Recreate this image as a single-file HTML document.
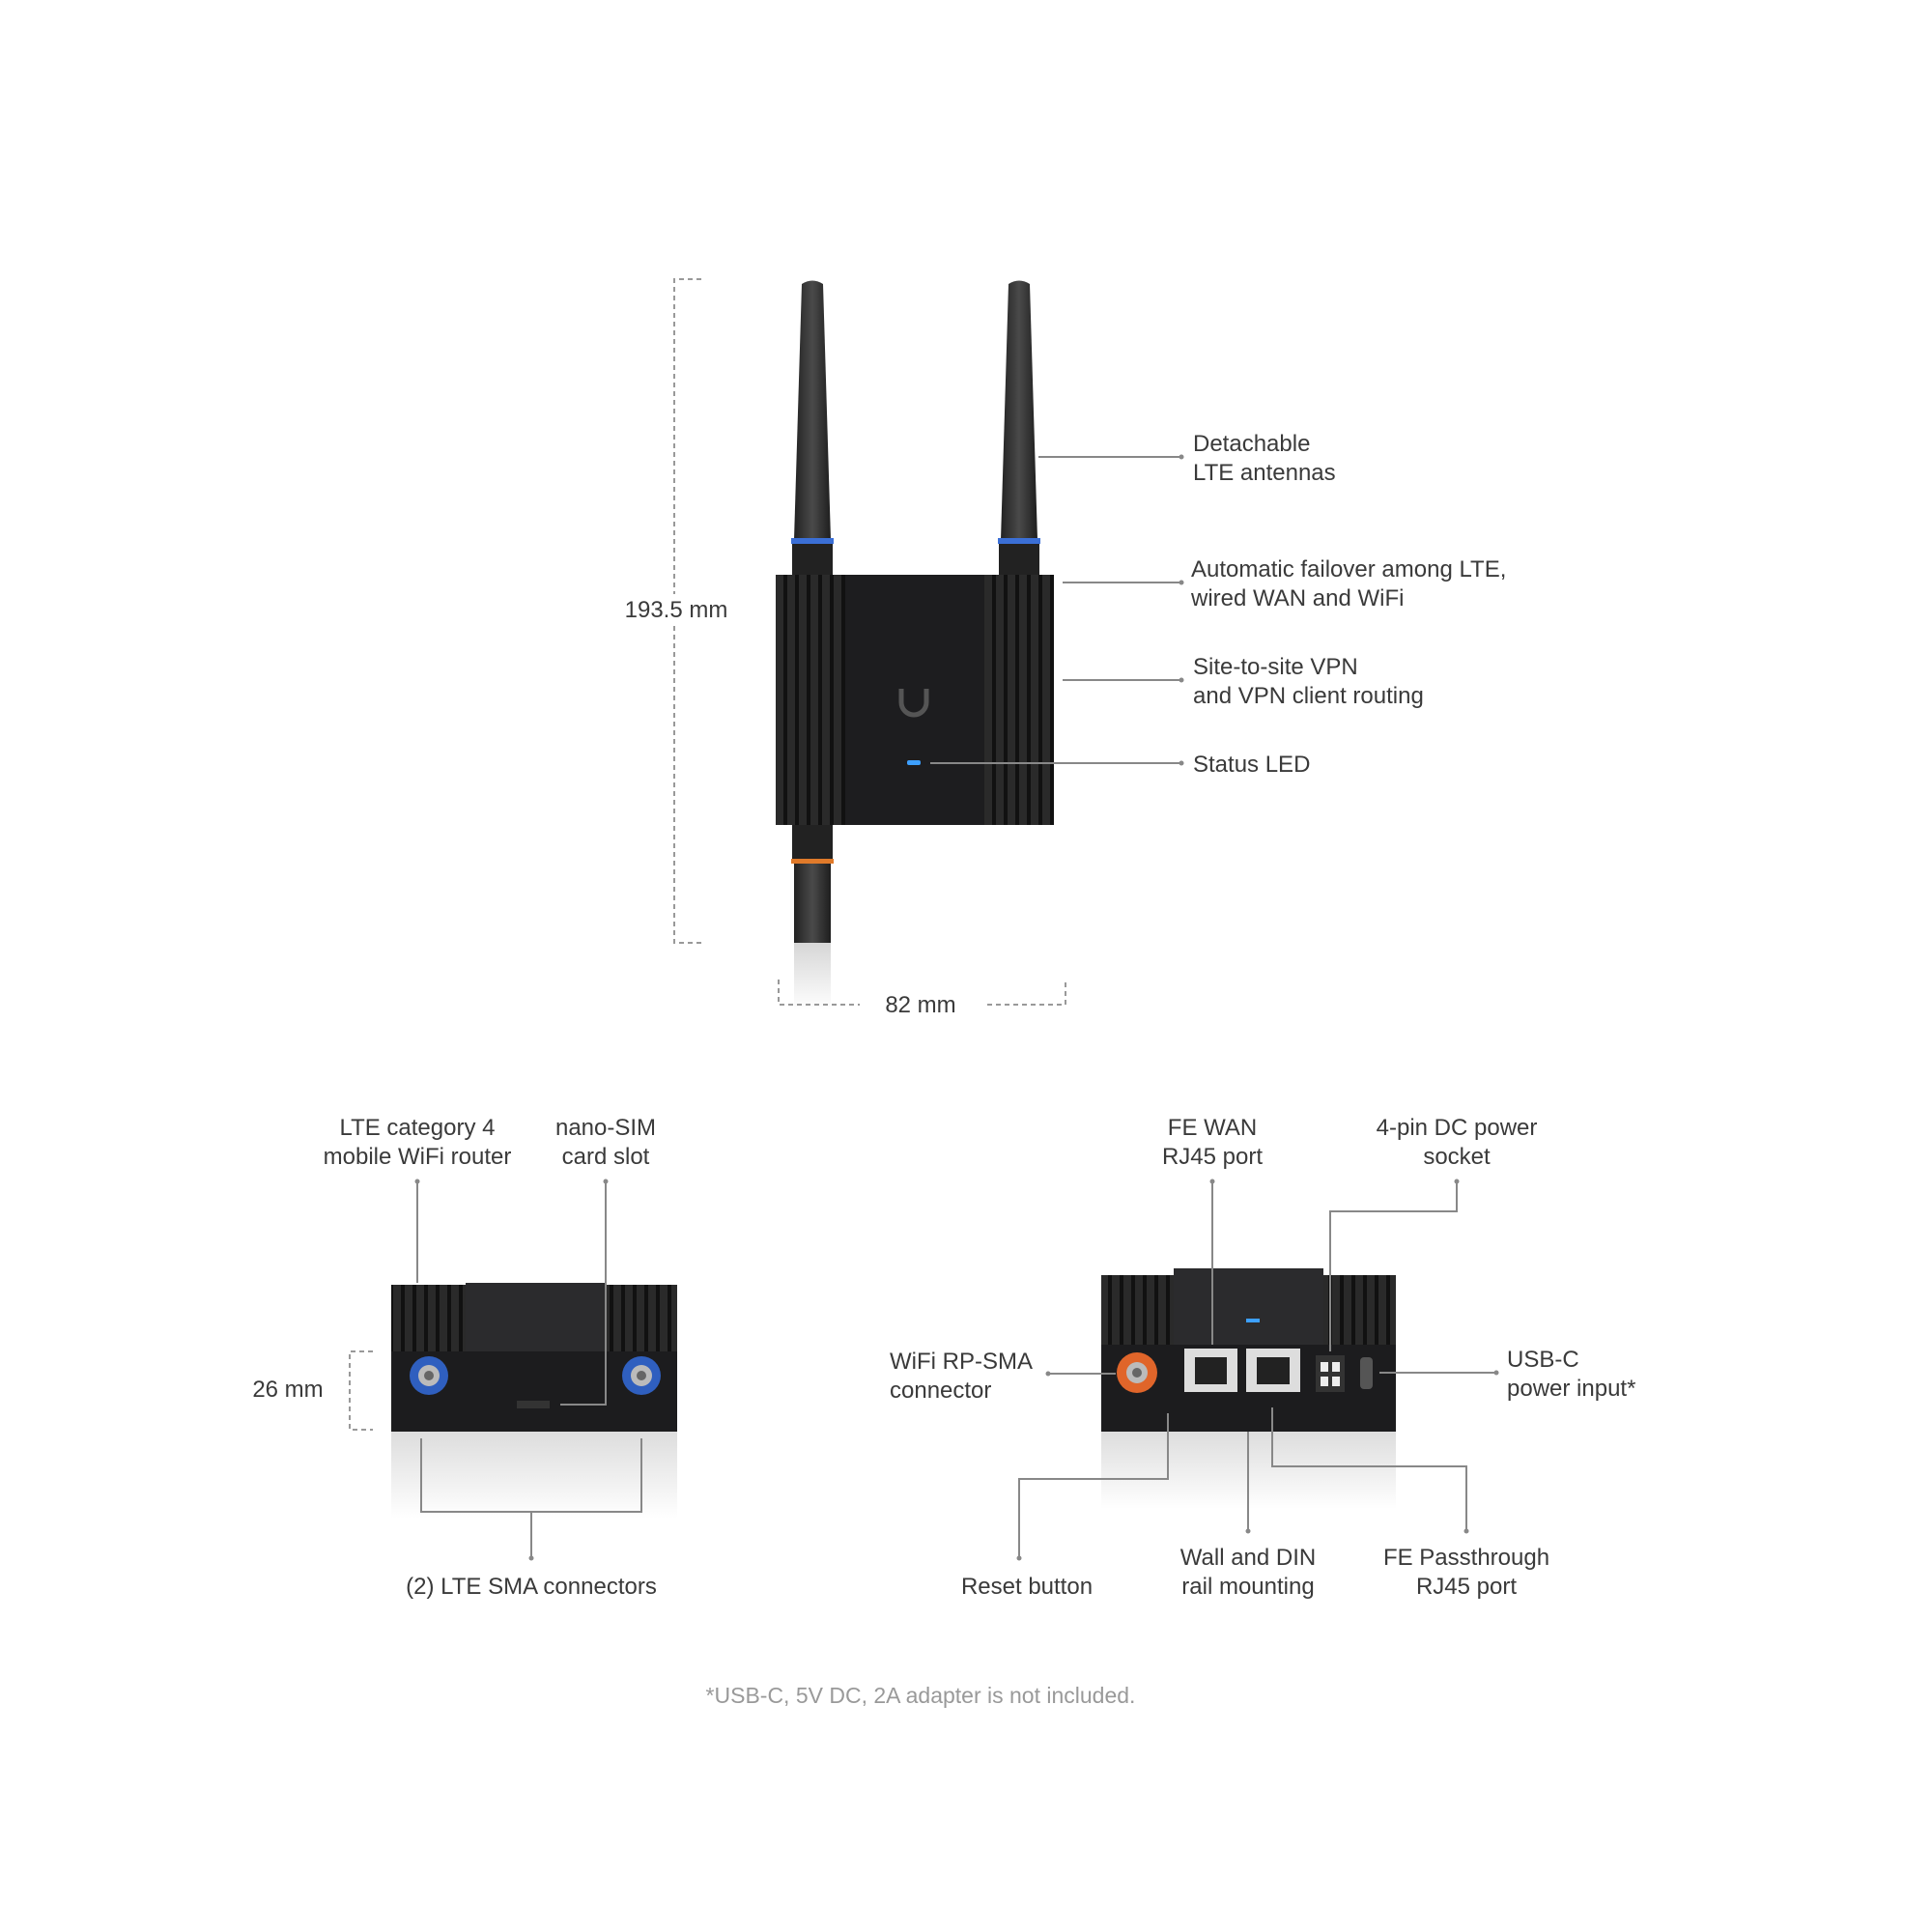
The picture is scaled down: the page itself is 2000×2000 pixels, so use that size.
<!DOCTYPE html>
<html><head><meta charset="utf-8"><style>
html,body{margin:0;padding:0;background:#fff}
svg{display:block}
text{font-family:"Liberation Sans",sans-serif;font-size:24px;fill:#3a3a3a}
.c{text-anchor:middle}
.l{stroke:#888;stroke-width:2;fill:none}
.d{stroke:#999;stroke-width:2;fill:none;stroke-dasharray:5,4}
</style></head><body>
<svg width="2000" height="2000" viewBox="0 0 2000 2000" xmlns="http://www.w3.org/2000/svg">
<defs>
<linearGradient id="ant" x1="0" x2="1"><stop offset="0" stop-color="#222"/><stop offset=".5" stop-color="#4a4a4a"/><stop offset="1" stop-color="#1e1e1e"/></linearGradient>
<linearGradient id="refl" x1="0" y1="0" x2="0" y2="1"><stop offset="0" stop-color="#bbb"/><stop offset="1" stop-color="#fff"/></linearGradient>
<pattern id="fin" width="12" height="10" patternUnits="userSpaceOnUse"><rect width="12" height="10" fill="#2a2a2a"/><rect width="4" height="10" fill="#111"/></pattern>
</defs>
<g transform="translate(-5,-5)">
<!-- TOP DEVICE -->
<path d="M835 299 Q846 292 857 299 L865 564 L827 564 Z" fill="url(#ant)"/>
<rect x="824" y="562" width="44" height="6" fill="#3b6fd6"/>
<rect x="825" y="568" width="42" height="34" fill="#222"/>
<path d="M1049 299 Q1060 292 1071 299 L1079 564 L1041 564 Z" fill="url(#ant)"/>
<rect x="1038" y="562" width="44" height="6" fill="#3b6fd6"/>
<rect x="1039" y="568" width="42" height="34" fill="#222"/>
<rect x="825" y="857" width="42" height="38" fill="#222"/>
<rect x="824" y="894" width="44" height="5" fill="#e07a2a"/>
<rect x="827" y="899" width="38" height="82" fill="url(#ant)"/>
<rect x="827" y="981" width="38" height="70" fill="url(#refl)" opacity=".6"/>
<rect x="808" y="600" width="288" height="259" fill="#1d1d1f"/>
<rect x="808" y="600" width="72" height="259" fill="url(#fin)"/>
<rect x="1024" y="600" width="72" height="259" fill="url(#fin)"/>
<path d="M938 718 v14 a13 13 0 0 0 26 0 v-14" stroke="#555" stroke-width="5" fill="none"/>
<rect x="944" y="792" width="14" height="5" rx="2" fill="#3da0ff"/>

<path class="d" d="M731 294 H703 V981 H731"/>
<rect x="690" y="620" width="30" height="32" fill="#fff"/>
<text x="705" y="644" class="c">193.5 mm</text>
<path class="d" d="M811 1019 V1045 H895 M1027 1045 H1108 V1019"/>
<text x="958" y="1053" class="c">82 mm</text>

<path class="l" d="M1080 478 H1228"/><circle cx="1228" cy="478" r="2.5" fill="#888"/>
<text x="1240" y="472">Detachable</text><text x="1240" y="502">LTE antennas</text>
<path class="l" d="M1105 608 H1228"/><circle cx="1228" cy="608" r="2.5" fill="#888"/>
<text x="1238" y="602">Automatic failover among LTE,</text><text x="1238" y="632">wired WAN and WiFi</text>
<path class="l" d="M1105 709 H1228"/><circle cx="1228" cy="709" r="2.5" fill="#888"/>
<text x="1240" y="703">Site-to-site VPN</text><text x="1240" y="733">and VPN client routing</text>
<path class="l" d="M968 795 H1228"/><circle cx="1228" cy="795" r="2.5" fill="#888"/>
<text x="1240" y="804">Status LED</text>

<!-- BOTTOM LEFT DEVICE -->
<rect x="410" y="1487" width="296" height="90" fill="url(#refl)" opacity=".5"/>
<rect x="410" y="1335" width="80" height="80" fill="url(#fin)"/>
<rect x="626" y="1335" width="80" height="80" fill="url(#fin)"/>
<rect x="487" y="1333" width="145" height="75" fill="#2b2b2d"/>
<rect x="410" y="1404" width="296" height="83" fill="#1c1c1e"/>
<circle cx="449" cy="1429" r="20" fill="#2f5fbf"/><circle cx="449" cy="1429" r="11" fill="#bbb"/><circle cx="449" cy="1429" r="5" fill="#666"/>
<circle cx="669" cy="1429" r="20" fill="#2f5fbf"/><circle cx="669" cy="1429" r="11" fill="#bbb"/><circle cx="669" cy="1429" r="5" fill="#666"/>
<rect x="540" y="1455" width="34" height="8" fill="#333"/>
<path class="d" d="M391 1404 H367 V1485 H391"/>
<text x="303" y="1451" class="c">26 mm</text>
<text x="437" y="1180" class="c">LTE category 4</text><text x="437" y="1210" class="c">mobile WiFi router</text>
<circle cx="437" cy="1228" r="2.5" fill="#888"/><path class="l" d="M437 1228 V1333"/>
<text x="632" y="1180" class="c">nano-SIM</text><text x="632" y="1210" class="c">card slot</text>
<circle cx="632" cy="1228" r="2.5" fill="#888"/><path class="l" d="M632 1228 V1459 H585"/>
<path class="l" d="M441 1494 V1570 H669 V1494 M555 1570 V1618"/><circle cx="555" cy="1618" r="2.5" fill="#888"/>
<text x="555" y="1655" class="c">(2) LTE SMA connectors</text>

<!-- BOTTOM RIGHT DEVICE -->
<rect x="1145" y="1487" width="305" height="80" fill="url(#refl)" opacity=".5"/>
<rect x="1145" y="1325" width="80" height="80" fill="url(#fin)"/>
<rect x="1370" y="1325" width="80" height="80" fill="url(#fin)"/>
<rect x="1220" y="1318" width="155" height="85" fill="#2b2b2d"/>
<rect x="1295" y="1370" width="14" height="4" fill="#3da0ff"/>
<rect x="1145" y="1397" width="305" height="90" fill="#1c1c1e"/>
<circle cx="1182" cy="1426" r="21" fill="#e0652a"/><circle cx="1182" cy="1426" r="11" fill="#bbb"/><circle cx="1182" cy="1426" r="5" fill="#666"/>
<rect x="1231" y="1401" width="55" height="45" fill="#ddd"/><rect x="1242" y="1410" width="33" height="28" fill="#222"/>
<rect x="1295" y="1401" width="56" height="45" fill="#ddd"/><rect x="1306" y="1410" width="34" height="28" fill="#222"/>
<rect x="1367" y="1408" width="30" height="38" fill="#333"/><rect x="1372" y="1415" width="8" height="10" fill="#eee"/><rect x="1384" y="1415" width="8" height="10" fill="#eee"/><rect x="1372" y="1430" width="8" height="10" fill="#eee"/><rect x="1384" y="1430" width="8" height="10" fill="#eee"/>
<rect x="1413" y="1410" width="13" height="33" rx="4" fill="#555"/>

<text x="1260" y="1180" class="c">FE WAN</text><text x="1260" y="1210" class="c">RJ45 port</text>
<circle cx="1260" cy="1228" r="2.5" fill="#888"/><path class="l" d="M1260 1228 V1397"/>
<text x="1513" y="1180" class="c">4-pin DC power</text><text x="1513" y="1210" class="c">socket</text>
<circle cx="1513" cy="1228" r="2.5" fill="#888"/><path class="l" d="M1513 1228 V1259 H1382 V1404"/>
<text x="926" y="1422">WiFi RP-SMA</text><text x="926" y="1452">connector</text>
<circle cx="1090" cy="1427" r="2.5" fill="#888"/><path class="l" d="M1090 1427 H1160"/>
<text x="1565" y="1420">USB-C</text><text x="1565" y="1450">power input*</text>
<circle cx="1554" cy="1426" r="2.5" fill="#888"/><path class="l" d="M1433 1426 H1554"/>
<path class="l" d="M1214 1468 V1536 H1060 V1618"/><circle cx="1060" cy="1618" r="2.5" fill="#888"/>
<text x="1068" y="1655" class="c">Reset button</text>
<path class="l" d="M1297 1487 V1590"/><circle cx="1297" cy="1590" r="2.5" fill="#888"/>
<text x="1297" y="1625" class="c">Wall and DIN</text><text x="1297" y="1655" class="c">rail mounting</text>
<path class="l" d="M1322 1462 V1523 H1523 V1590"/><circle cx="1523" cy="1590" r="2.5" fill="#888"/>
<text x="1523" y="1625" class="c">FE Passthrough</text><text x="1523" y="1655" class="c">RJ45 port</text>

<text x="958" y="1768" class="c" style="fill:#999;font-size:23px">*USB-C, 5V DC, 2A adapter is not included.</text>
</g>
</svg>
</body></html>
